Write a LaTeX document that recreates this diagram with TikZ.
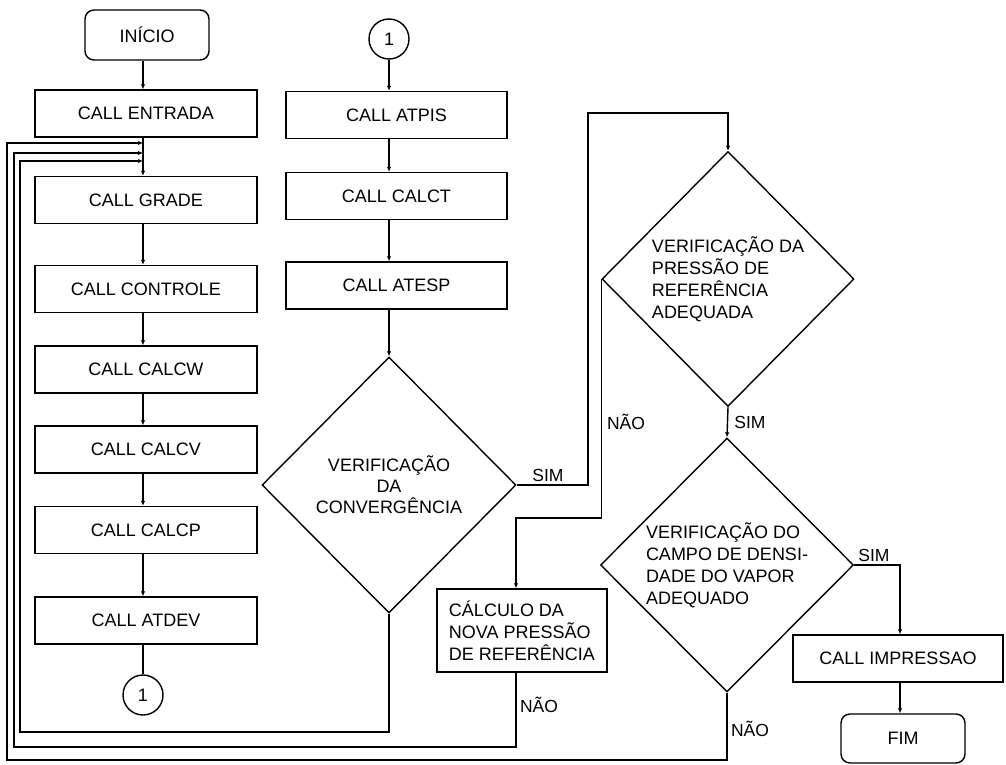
\documentclass[tikz,border=0pt]{standalone}
\usepackage{fontspec}
\setmainfont{Liberation Sans}
\usetikzlibrary{shapes.geometric,arrows.meta}
\begin{document}
\begin{tikzpicture}[x=1pt,y=-1pt,
  line width=1.4pt,
  font=\fontsize{18}{22}\selectfont,
  box/.style={draw,rectangle,inner sep=0pt,minimum width=222pt,minimum height=47pt},
  term/.style={draw,rectangle,rounded corners=9pt,inner sep=0pt,minimum width=124pt,minimum height=50pt},
  conn/.style={draw,circle,inner sep=0pt,minimum size=40pt},
  dec/.style={draw,diamond,inner sep=0pt,align=center},
  lbl/.style={inner sep=0pt,font=\fontsize{17.5}{21}\selectfont},
  arr/.style={-{Latex[length=5pt,width=4.5pt]}}
]
\useasboundingbox (0,0) rectangle (1006,765);
% left column
\node[term] (inicio) at (147,35) {INÍCIO};
\node[box] (entrada) at (146,113.5) {CALL ENTRADA};
\node[box] (grade) at (146,200) {CALL GRADE};
\node[box] (controle) at (146,289) {CALL CONTROLE};
\node[box] (calcw) at (146,369.5) {CALL CALCW};
\node[box] (calcv) at (146,449.5) {CALL CALCV};
\node[box] (calcp) at (146,530) {CALL CALCP};
\node[box] (atdev) at (146,620.5) {CALL ATDEV};
\node[conn] (c1b) at (143,695) {1};
% second column
\node[conn] (c1t) at (389,39) {1};
\node[box,minimum width=221pt] (atpis) at (396.5,115) {CALL ATPIS};
\node[box,minimum width=221pt] (calct) at (396.5,196) {CALL CALCT};
\node[box,minimum width=221pt] (atesp) at (396.5,285.5) {CALL ATESP};
\node[dec,minimum width=254pt,minimum height=256pt,font=\fontsize{18}{21}\selectfont] (conv) at (389,485) {VERIFICAÇÃO\\DA\\CONVERGÊNCIA};
\node[box,minimum width=170pt,minimum height=83pt,align=left] (calc) at (522,630.5) {CÁLCULO DA\\NOVA PRESSÃO\\DE REFERÊNCIA};
% right column
\node[dec,minimum width=252pt,minimum height=255pt,align=left] (press) at (728,279) {VERIFICAÇÃO DA\\PRESSÃO DE\\REFERÊNCIA\\ADEQUADA};
\node[dec,minimum width=253pt,minimum height=254pt,align=left] (campo) at (727,565) {VERIFICAÇÃO DO\\CAMPO DE DENSI-\\DADE DO VAPOR\\ADEQUADO};
\node[box,minimum width=210pt] (impr) at (898,658.5) {CALL IMPRESSAO};
\node[term,minimum height=49pt] (fim) at (903,738.5) {FIM};
% labels
\node[lbl] (simc) at (548,475) {SIM};
\node[lbl] (naoc) at (539,705) {NÃO};
\node[lbl] (naop) at (626,422) {NÃO};
\node[lbl] (simp) at (750,422) {SIM};
\node[lbl] (simf) at (874,555) {SIM};
\node[lbl] (naof) at (750,729) {NÃO};
% coordinates
\coordinate (j1) at (143,143);
\coordinate (j2) at (143,153);
\coordinate (j3) at (143,161);
\coordinate (xo) at (7,0);
\coordinate (xm) at (14,0);
\coordinate (xi) at (20,0);
\coordinate (yo) at (0,760);
\coordinate (ym) at (0,747);
\coordinate (yi) at (0,732);
\coordinate (rs) at (588,113);
\coordinate (rn) at (516,518);
\coordinate (rf) at (900,563);
% straight connectors
\draw[arr] (inicio.south -| j1) -- (entrada.north -| j1);
\draw[arr] (entrada.south -| j1) -- (grade.north -| j1);
\draw[arr] (grade.south -| j1) -- (controle.north -| j1);
\draw[arr] (controle.south -| j1) -- (calcw.north -| j1);
\draw[arr] (calcw.south -| j1) -- (calcv.north -| j1);
\draw[arr] (calcv.south -| j1) -- (calcp.north -| j1);
\draw[arr] (calcp.south -| j1) -- (atdev.north -| j1);
\draw (atdev.south -| c1b) -- (c1b.north);
\draw[arr] (c1t.south) -- (atpis.north -| c1t);
\draw[arr] (atpis.south -| c1t) -- (calct.north -| c1t);
\draw[arr] (calct.south -| c1t) -- (atesp.north -| c1t);
\draw[arr] (atesp.south -| c1t) -- (conv.north);
% SIM from convergence to pressure check
\draw[arr] (conv.east) -| (rs) -| (press.north);
% NAO from pressure check to new pressure
\draw[arr] (press.west) |- (rn) -- (calc.north -| rn);
% SIM pressure -> campo
\draw[arr] (press.south) -- (campo.north);
% SIM campo -> impressao
\draw[arr] (campo.east) -| (impr.north -| rf);
\draw[arr] (impr.south -| rf) -- (fim.north -| rf);
% loops
\draw[arr] (conv.south) -- (conv.south |- yi) -- (xi |- yi) -- (xi |- j3) -- (j3);
\draw[arr] (calc.south -| rn) -- (rn |- ym) -- (xm |- ym) -- (xm |- j2) -- (j2);
\draw[arr] (campo.south) -- (campo.south |- yo) -- (xo |- yo) -- (xo |- j1) -- (j1);
\end{tikzpicture}
\end{document}
